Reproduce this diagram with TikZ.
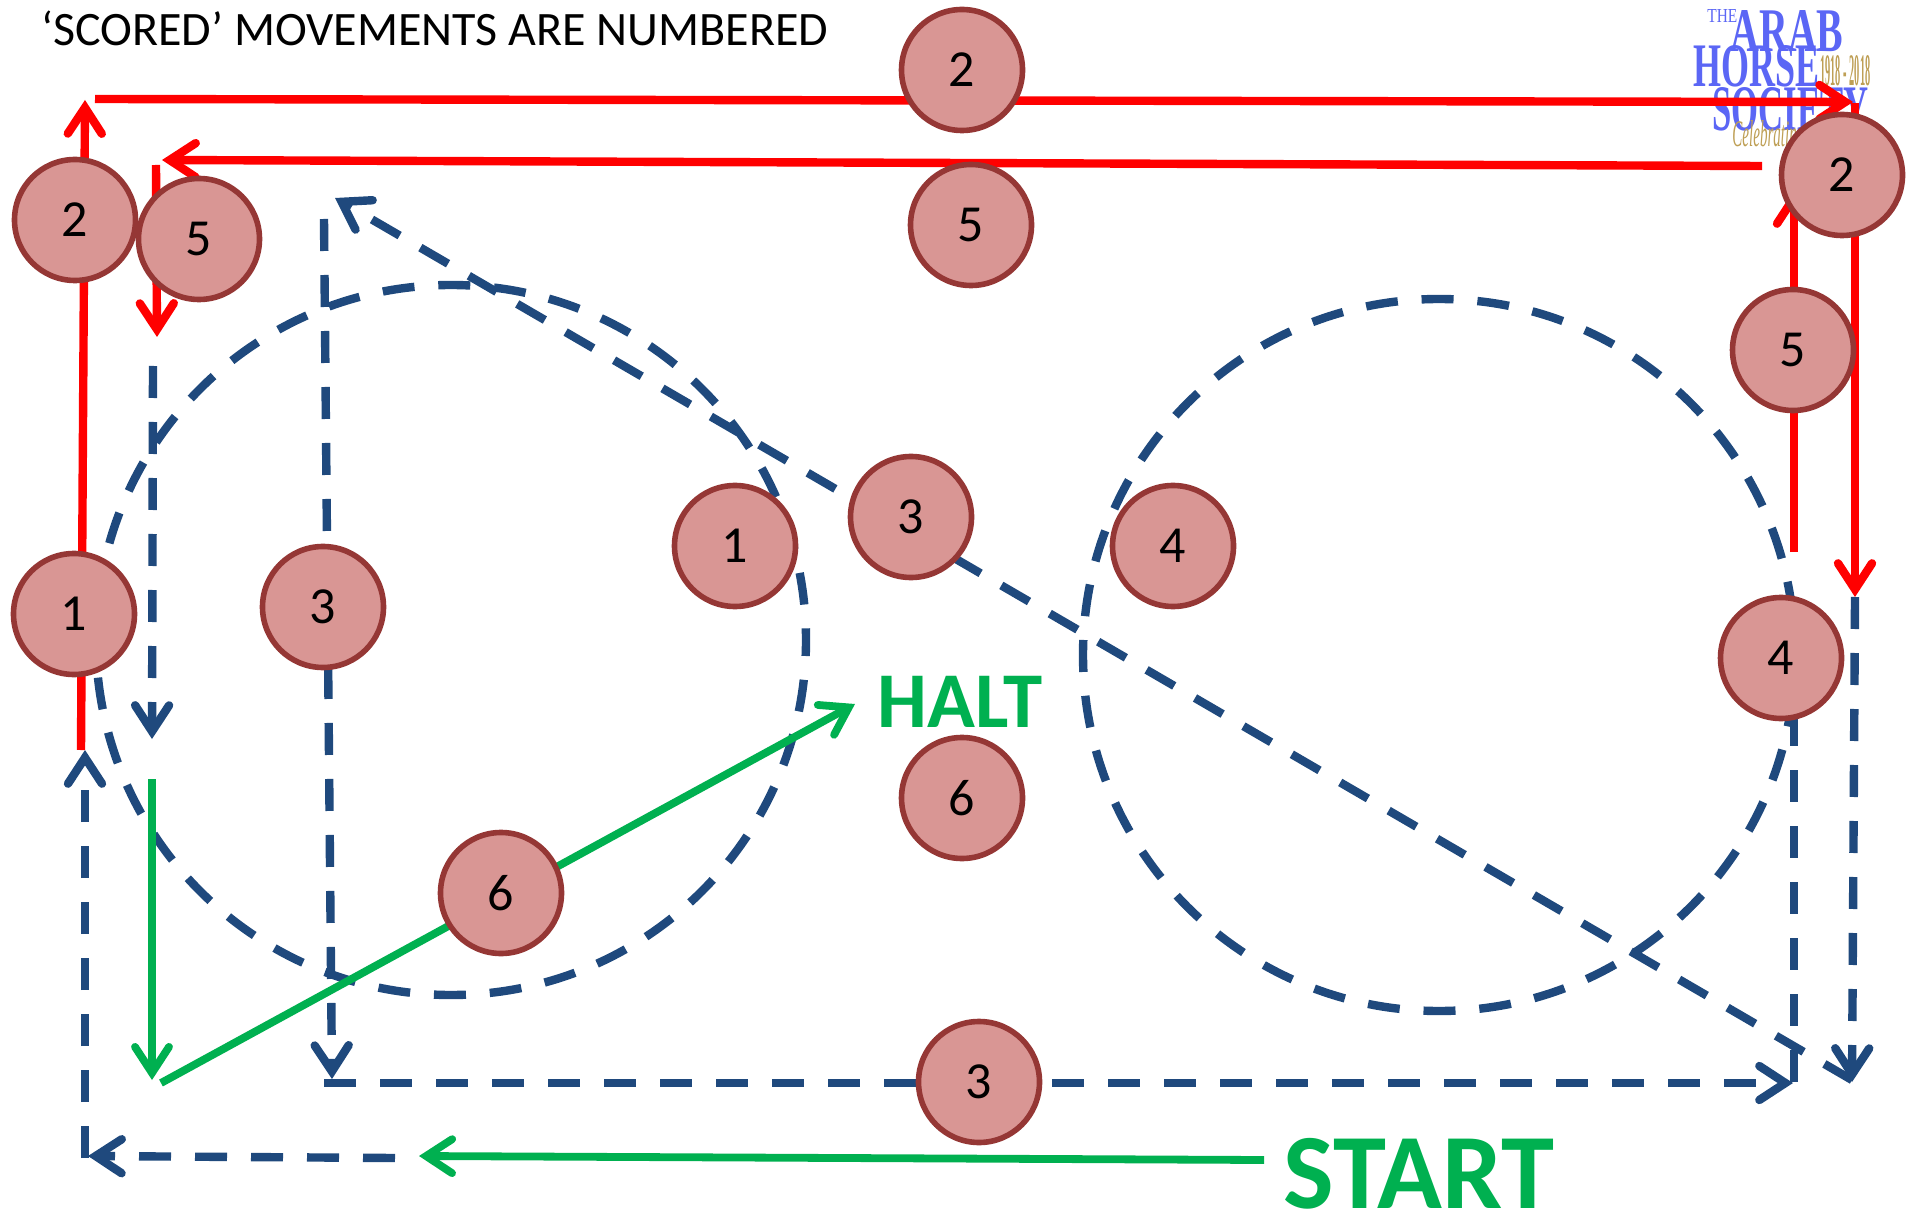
\documentclass[tikz,border=0pt]{standalone}
\usepackage{fontspec}
\setmainfont{Carlito}
\newfontfamily\logofont{Liberation Serif}
\usetikzlibrary{arrows.meta}

\begin{document}
\begin{tikzpicture}[
  x=0.5pt, y=-0.5pt,
  barb/.style={-{Straight Barb[length=13pt,width=17pt,line cap=round]}},
  redline/.style={draw=arabred, line width=4.2pt},
  blueline/.style={draw=arabblue, line width=4.2pt, dash pattern=on 16pt off 12pt},
  bluering/.style={draw=arabblue, line width=4.2pt, dash pattern=on 16pt off 11.94pt, dash phase=8pt},
  greenline/.style={draw=arabgreen, line width=3.9pt},
  scoremark/.style={circle, draw=markedge, fill=markfill, line width=2.8pt, minimum size=60.5pt, inner sep=0pt, font=\fontsize{26pt}{26pt}\selectfont},
  logoword/.style={anchor=north west, inner sep=0pt, text=logoblue, font=\logofont\bfseries},
  logoyear/.style={anchor=north west, inner sep=0pt, text=logogold, font=\logofont\bfseries},
]
\definecolor{arabred}{HTML}{FF0000}
\definecolor{arabblue}{HTML}{1F497D}
\definecolor{arabgreen}{HTML}{00B050}
\definecolor{markfill}{HTML}{D99694}
\definecolor{markedge}{HTML}{953735}
\definecolor{logoblue}{HTML}{5B66F5}
\definecolor{logogold}{HTML}{BE9F55}

\useasboundingbox (0,0) rectangle (1910,1213);

% logo
\node[logoword] (logothe) at (1707,9) {\resizebox{15pt}{6.5pt}{\mdseries THE}};
\node[logoword] (logoarab) at (1730,10) {\resizebox{56.5pt}{20.5pt}{ARAB}};
\node[logoword] (logohorse) at (1693,45) {\resizebox{63pt}{20.5pt}{HORSE}};
\node[logoyear] (logoyears) at (1820,55) {\resizebox{25pt}{15pt}{1918 - 2018}};
\node[logoword] (logosociety) at (1712,87) {\resizebox{78pt}{21.5pt}{SOCIETY}};
\node[logoyear] (logocelebrating) at (1732,120) {\resizebox{36pt}{13pt}{\mdseries\itshape Celebrating}};

% free ends of the connectors
\coordinate (leftlow) at (81,750);
\coordinate (lefttop) at (85,100);
\coordinate (topstart) at (95,99);
\coordinate (topend) at (1853,102);
\coordinate (rightstart) at (1855,103);
\coordinate (rightend) at (1855,597);
\coordinate (backstart) at (1762,166);
\coordinate (backend) at (162,160);
\coordinate (downstart) at (156,165);
\coordinate (downend) at (157,337);
\coordinate (upstart) at (1794,552);
\coordinate (upend) at (1794,190);

\coordinate (bluedownstart) at (153,366);
\coordinate (bluedownend) at (152,739);
\coordinate (stemtop) at (324,219);
\coordinate (stemend) at (332,1079);
\coordinate (basestart) at (324,1083);
\coordinate (baseend) at (1793,1083);
\coordinate (edgestart) at (1794,714);
\coordinate (edgeend) at (1794,1083);
\coordinate (rightdash) at (1855,597);
\coordinate (rightdashend) at (1852,1082);
\coordinate (diagstart) at (1852,1080);
\coordinate (diagend) at (335,198);
\coordinate (loopstart) at (395,1158);
\coordinate (loopcorner) at (88,1156);
\coordinate (loopup) at (85,1158);
\coordinate (loopend) at (85,750);

\coordinate (halfstart) at (152,779);
\coordinate (halfend) at (152,1080);
\coordinate (lineout) at (161,1083);
\coordinate (lineend) at (855,704);
\coordinate (startfrom) at (1264,1160);
\coordinate (startend) at (419,1156);

% circles
\draw[bluering] (451,640) circle[radius=355];
\draw[bluering] (1439,655) circle[radius=356];

% dashed
\draw[blueline, barb] (rightdash) -- (rightdashend);
\draw[blueline] (edgestart) -- (edgeend);
\draw[blueline, barb] (basestart) -- (baseend);
\draw[blueline, barb] (stemtop) -- (stemend);
\draw[blueline, barb] (diagstart) -- (diagend);
\draw[blueline, barb] (bluedownstart) -- (bluedownend);
\draw[blueline, barb] (loopstart) -- (loopcorner);
\draw[blueline, barb] (loopup) -- (loopend);

% scored
\draw[redline, barb] (leftlow) -- (lefttop);
\draw[redline, barb] (topstart) -- (topend);
\draw[redline, barb] (rightstart) -- (rightend);
\draw[redline, barb] (backstart) -- (backend);
\draw[redline, barb] (downstart) -- (downend);
\draw[redline, barb] (upstart) -- (upend);

% green
\draw[greenline, barb] (halfstart) -- (halfend);
\draw[greenline, barb] (lineout) -- (lineend);
\draw[greenline, barb] (startfrom) -- (startend);

\node[scoremark] (two1) at (962,70) {2};
\node[scoremark] (two2) at (75,220) {2};
\node[scoremark] (two3) at (1842,175) {2};
\node[scoremark] (five1) at (199,239) {5};
\node[scoremark] (five2) at (971,225) {5};
\node[scoremark] (five3) at (1793,350) {5};
\node[scoremark] (one1) at (74,614) {1};
\node[scoremark] (one2) at (735,546) {1};
\node[scoremark] (three1) at (323,607) {3};
\node[scoremark] (three2) at (911,517) {3};
\node[scoremark] (three3) at (979,1082) {3};
\node[scoremark] (four1) at (1173,546) {4};
\node[scoremark] (four2) at (1781,658) {4};
\node[scoremark] (six1) at (501,893) {6};
\node[scoremark] (six2) at (962,798) {6};

\node[anchor=base west, inner sep=0pt, font=\fontsize{24pt}{24pt}\selectfont] (title) at (41,46) {‘SCORED’ MOVEMENTS ARE NUMBERED};
\node[inner sep=0pt, text=arabgreen, font=\fontsize{39.5pt}{40pt}\selectfont\bfseries] (halt) at (960,702) {HALT};
\node[anchor=base, inner sep=0pt, text=arabgreen, font=\fontsize{53.5pt}{54pt}\selectfont\bfseries] (start) at (1419,1208) {START};
\end{tikzpicture}
\end{document}
